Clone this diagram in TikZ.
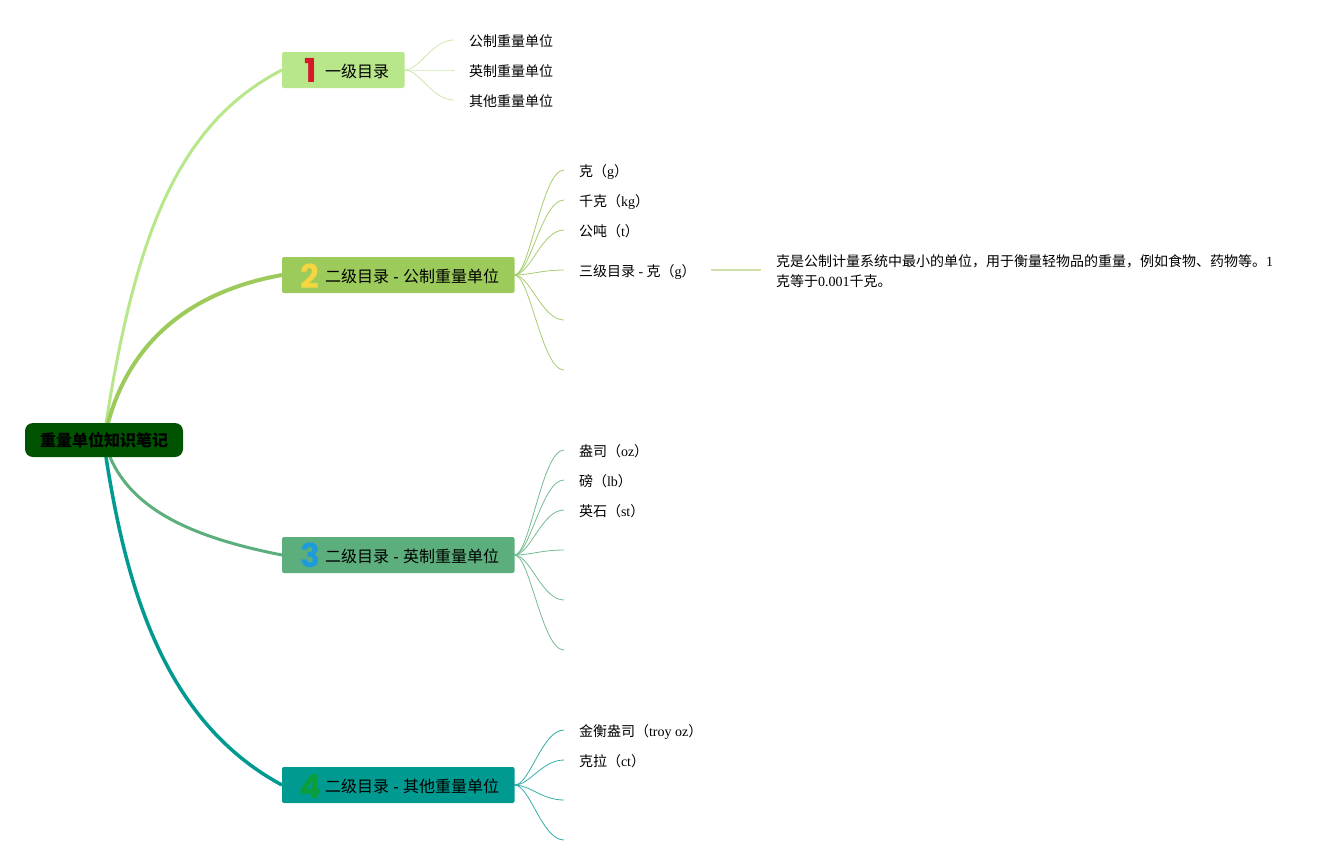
\documentclass[tikz,border=0pt]{standalone}
\usepackage{fontspec}
\setmainfont{Liberation Serif}
\setsansfont{Liberation Sans}
\newfontfamily\cjk{Noto Sans CJK SC}
\newfontfamily\digitfont{Poppins}
\usepackage{tikz}
\usetikzlibrary{backgrounds}
\newcommand{\zh}[1]{{\cjk #1}}
\definecolor{rootgreen}{HTML}{005300}
\definecolor{lineone}{HTML}{B8E68A}
\definecolor{linetwo}{HTML}{9CCB5C}
\definecolor{linethree}{HTML}{5CAF7C}
\definecolor{linefour}{HTML}{009A90}
\definecolor{twigone}{HTML}{CDE8AE}
\definecolor{twigtwo}{HTML}{A6CC70}
\definecolor{linedeep}{HTML}{CFE0A8}

\begin{document}
\begin{tikzpicture}[
  x=1pt,
  y=-1pt,
  every node/.style={inner sep=0pt,outer sep=0pt},
  rootbox/.style={fill=rootgreen,rounded corners=8pt,minimum width=158pt,
    minimum height=34pt,font=\fontsize{16}{20}\selectfont\bfseries},
  branchbox/.style={rounded corners=2pt,minimum height=36pt,anchor=west,
    font=\fontsize{16}{20}\selectfont\sffamily},
  badge/.style={font=\fontsize{33}{33}\selectfont\digitfont\bfseries},
  leaf/.style={anchor=west,inner xsep=15pt,font=\fontsize{14}{20}\selectfont},
  leafrow/.style={leaf,text height=14pt,text depth=1.4pt},
  stalk/.style={line width=3pt},
  twig/.style={line width=0.8pt}
]
  \useasboundingbox (0,0) rectangle (1336,865);

  % Root and branches.
  \node[rootbox] (root) at (104,440) {\zh{重量单位知识笔记}};
  \node[branchbox,fill=lineone,minimum width=122.5pt] (one) at (282,70) {};
  \node[branchbox,fill=linetwo,minimum width=232.5pt] (two) at (282,275) {};
  \node[branchbox,fill=linethree,minimum width=232.5pt] (three) at (282,555) {};
  \node[branchbox,fill=linefour,minimum width=232.5pt] (four) at (282,785) {};

  % Branch texts and number badges.
  \node[branchbox,minimum height=0pt] (onetext) at (325,71) {\zh{一级目录}};
  \node[branchbox,minimum height=0pt] (twotext) at (325,276) {\zh{二级目录} - \zh{公制重量单位}};
  \node[branchbox,minimum height=0pt] (threetext) at (325,556) {\zh{二级目录} - \zh{英制重量单位}};
  \node[branchbox,minimum height=0pt] (fourtext) at (325,786) {\zh{二级目录} - \zh{其他重量单位}};
  \node[badge,text={rgb,255:red,214;green,24;blue,42}] (onebadge) at (311,70) {1};
  \node[badge,text={rgb,255:red,245;green,214;blue,62}] (twobadge) at (310,276) {2};
  \node[badge,text={rgb,255:red,30;green,155;blue,219}] (threebadge) at (310,555) {3};
  \node[badge,text={rgb,255:red,10;green,158;blue,60}] (fourbadge) at (311,787) {4};

  % Leaves.
  \foreach \name/\y/\lab in {
    a/40/\zh{公制重量单位},b/70/\zh{英制重量单位},c/100/\zh{其他重量单位}}
    {
      \node[leafrow] (\name) at (454,\y) {\lab};
      \begin{scope}[on background layer]
        \draw[twig,twigone] (one.east) .. controls (420,70) and (432,\y) .. (\name.west);
      \end{scope}
    }
  \foreach \name/\y/\lab in {
    d/170/{\zh{克（}g\zh{）}},e/200/{\zh{千克（}kg\zh{）}},f/230/{\zh{公吨（}t\zh{）}},
    g/270/{\zh{三级目录} - \zh{克（}g\zh{）}},h/320/{},i/370/{}}
    {
      \node[leafrow] (\name) at (564,\y) {\lab};
      \begin{scope}[on background layer]
        \draw[twig,twigtwo] (two.east) .. controls (530,275) and (542,\y) .. (\name.west);
      \end{scope}
    }
  \coordinate (gend) at (711,270);
  \node[leaf,align=left] (note) at (761,271)
    {\zh{克是公制计量系统中最小的单位，用于衡量轻物品的重量，例如食物、药物等。}1\\
     \zh{克等于}0.001\zh{千克。}};
  \foreach \name/\y/\lab in {
    j/450/{\zh{盎司（}oz\zh{）}},k/480/{\zh{磅（}lb\zh{）}},l/510/{\zh{英石（}st\zh{）}},
    m/550/{},n/600/{},o/650/{}}
    {
      \node[leafrow] (\name) at (564,\y) {\lab};
      \begin{scope}[on background layer]
        \draw[twig,linethree!85!white] (three.east) .. controls (530,555) and (542,\y) .. (\name.west);
      \end{scope}
    }
  \foreach \name/\y/\lab in {
    p/730/{\zh{金衡盎司（}troy oz\zh{）}},q/760/{\zh{克拉（}ct\zh{）}},r/800/{},s/840/{}}
    {
      \node[leafrow] (\name) at (564,\y) {\lab};
      \begin{scope}[on background layer]
        \draw[twig,linefour!80!white] (four.east) .. controls (530,785) and (542,\y) .. (\name.west);
      \end{scope}
    }

  % Stalks, behind the boxes.
  \begin{scope}[on background layer]
    \draw[stalk,lineone] ([xshift=2pt]root.north) .. controls (135,241) and (175,125) .. (one.west);
    \draw[stalk,linetwo,line width=4pt] ([xshift=4pt]root.north) .. controls (125,360) and (171,295) .. (two.west);
    \draw[stalk,linethree] ([xshift=6pt]root.south) .. controls (133,511) and (195,538) .. (three.west);
    \draw[stalk,linefour,line width=3.5pt] ([xshift=2pt]root.south) .. controls (126,585) and (163,721) .. (four.west);
    \draw[linedeep,line width=2pt] (gend) -- (note.west |- gend);
  \end{scope}
\end{tikzpicture}
\end{document}
